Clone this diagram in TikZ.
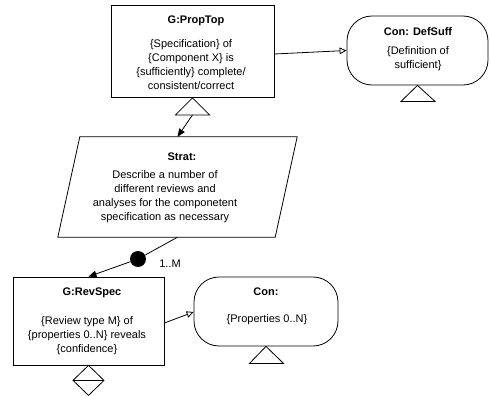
\documentclass[tikz,border=0pt]{standalone}
\usepackage{fontspec}
\setmainfont{Liberation Sans}
\usetikzlibrary{arrows.meta,calc}

\tikzset{
  gsn/.style={line width=0.8pt},
  goalbox/.style={draw, rectangle, inner sep=0pt, line width=0.8pt},
  ctxbox/.style={draw, rectangle, rounded corners=25pt, inner sep=0pt, line width=0.8pt},
  stratbox/.style={rectangle, inner sep=0pt},
  txt/.style={align=center, inner sep=0pt, font=\fontsize{11}{14}\selectfont},
  ttl/.style={inner sep=0pt, font=\fontsize{11}{14}\selectfont\bfseries},
  solved/.style={-{Triangle[length=8pt,width=6.5pt]}, line width=0.8pt},
  incontext/.style={-{Triangle[open,length=7pt,width=6.5pt]}, line width=0.8pt},
  multidot/.style={circle, fill, inner sep=0pt, minimum size=16pt},
}

\begin{document}
\begin{tikzpicture}[x=1pt,y=-1pt]
\useasboundingbox (0,0) rectangle (490,396);

% top goal
\node[goalbox, minimum width=163pt, minimum height=92pt] (proptop) at (192.5,51.5) {};
\node[ttl] (proptop-t) at (196,21) {G:PropTop};
\node[txt] (proptop-b) at (191,64.5) {\{Specification\} of\\\{Component X\} is\\\{sufficiently\} complete/\\consistent/correct};

% context of the top goal
\node[ctxbox, minimum width=141pt, minimum height=69pt] (defsuff) at (417.5,50.5) {};
\node[ttl] (defsuff-t) at (418,32) {Con: DefSuff};
\node[txt] (defsuff-b) at (418,58.5) {\{Definition of\\sufficient\}};

% strategy (parallelogram)
\node[stratbox, minimum width=217pt, minimum height=100pt] (strat) at (177.5,187) {};
\draw[gsn] ($(strat.north west)+(11,0)$) -- ($(strat.north east)+(11,0)$)
  -- ($(strat.south east)-(11,0)$) -- ($(strat.south west)-(11,0)$) -- cycle;
\node[ttl] (strat-t) at (182,157) {Strat:};
\node[txt] (strat-b) at (165,197) {Describe a number of\\different reviews and\\analyses for the componetent\\specification as necessary};

% sub-goal
\node[goalbox, minimum width=151pt, minimum height=88pt] (revspec) at (88.5,321) {};
\node[ttl] (revspec-t) at (92,293) {G:RevSpec};
\node[txt] (revspec-b) at (87,335.5) {\{Review type M\} of\\\{properties 0..N\} reveals\\\{confidence\}};

% context of the sub-goal
\node[ctxbox, minimum width=144pt, minimum height=69pt] (props) at (266,311.5) {};
\node[ttl] (props-t) at (266,292) {Con:};
\node[txt] (props-b) at (267,320) {\{Properties 0..N\}};

% multiplicity marker
\node[multidot] (dot) at (138,259) {};
\node[txt] (mult) at (170,264) {1..M};

% pattern triangles
\draw[gsn] (proptop.south) -- ++(-17,17) coordinate (pt-l) -- ++(34,0) coordinate (pt-r) -- cycle;
\coordinate (pt-base) at ($(pt-l)!0.5!(pt-r)$);
\draw[gsn] (defsuff.south) -- ++(-16.5,16) -- ++(34,0) -- cycle;
\draw[gsn] (props.south) -- ++(-16.5,17) -- ++(34,0) -- cycle;

% undeveloped-entity diamond
\draw[gsn] (revspec.south) -- ++(15.5,15) coordinate (dm-r) -- ++(-15.5,15) -- ++(-15.5,-15) coordinate (dm-l) -- cycle;
\draw[gsn] (dm-l) -- (dm-r);

% connectors
\draw[solved] (pt-base) -- (strat.north);
\draw[gsn] (strat.south) -- (dot);
\draw[solved] (dot) -- (revspec.north);
\draw[incontext] ([yshift=-2.5pt]proptop.east) -- (defsuff.west);
\draw[incontext] ([yshift=-2pt]revspec.east) -- ([yshift=-0.5pt]props.west);
\end{tikzpicture}
\end{document}
